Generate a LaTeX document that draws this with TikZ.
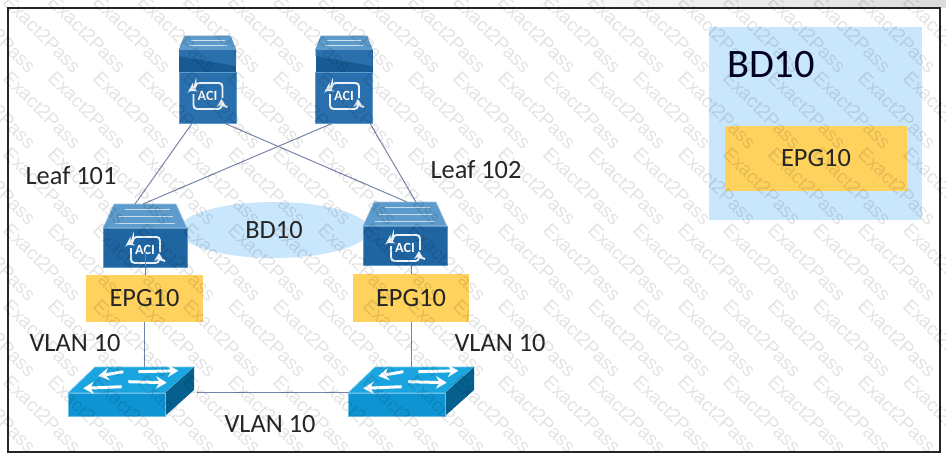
\documentclass[tikz,border=0pt]{standalone}
\usepackage{fontspec}
\setmainfont{Carlito}
\newfontfamily\wmfont{Liberation Sans}
\usetikzlibrary{positioning,shapes.geometric,arrows.meta}

\definecolor{spinetop}{HTML}{5C9BCB}
\definecolor{spinefill}{HTML}{2A70AE}
\definecolor{spinedark}{HTML}{175A94}
\definecolor{leaffill}{HTML}{1F65A2}
\definecolor{swfront}{HTML}{0F94D3}
\definecolor{swtop}{HTML}{1BA5E0}
\definecolor{swside}{HTML}{05608F}
\definecolor{linkblue}{HTML}{7683A8}
\definecolor{bdblue}{HTML}{C8E7FD}
\definecolor{epgyellow}{HTML}{FFD25E}
\definecolor{inktext}{HTML}{262626}

\tikzset{
  lbl/.style={font=\fontsize{15}{18}\selectfont, text=inktext, inner sep=0pt},
  biglbl/.style={font=\fontsize{23}{26}\selectfont, text=black!85!blue, inner sep=0pt},
  epgbox/.style={fill=epgyellow, text=inktext, font=\fontsize{15}{18}\selectfont, inner sep=0pt,
    minimum width=#1},
  epgbox/.default=2.34cm,
  bdcloud/.style={ellipse, fill=bdblue, text=inktext, font=\fontsize{15}{18}\selectfont,
    minimum width=3.8cm, minimum height=1.12cm, inner sep=0pt},
  link/.style={draw=linkblue, line width=.55pt},
  swarrow/.style={white, line width=1.7pt, -{Stealth[length=6pt,width=7pt]}},
  acipen/.style={white!90!spinefill, line width=1.1pt, rounded corners=2pt, -{Stealth[length=4.5pt,width=5.5pt]}},
  wmark/.style={font=\wmfont\fontsize{10.8}{12}\selectfont, text=black, text opacity=.11,
    rotate=-45, inner sep=0pt},
  aciicon/.pic={
    \draw[acipen] (15,2) -- (15,-13) -- (-12,-13) -- (-12,-9) -- (-19,-5);
    \draw[acipen] (-14,-2) -- (-14,13) -- (14,13) -- (14,3);
    \draw[acipen, -] (14,9) -- (20,11);
    \node[font=\fontsize{8}{8}\selectfont\bfseries, text=white, inner sep=0pt] (-txt) at (0,0) {ACI};
  },
  spinesw/.pic={
    \fill[spinetop, draw=spinefill!70!white, line width=.4pt] (-23,-60) -- (23,-60) -- (28.5,-46) -- (-28.5,-46) -- cycle;
    \draw[white!70!spinetop, line width=.5pt] (-17,-56) -- (17,-56) (-19,-51) -- (19,-51);
    \fill[spinedark] (-28.5,-46) rectangle (28.5,-24);
    \fill[spinefill] (-28.5,-40) -- (28.5,-30) -- (28.5,-46) -- (-28.5,-46) -- cycle;
    \node[fill=spinefill, draw=spinetop, line width=.5pt, minimum width=1.14cm, minimum height=1.02cm, inner sep=0pt]
      (-body) at (0,1.5) {};
    \pic {aciicon};
  },
  leafsw/.pic={
    \fill[spinetop, draw=white!60!spinefill, line width=.4pt] (-31,-46) -- (31,-46) -- (42,-22) -- (-42,-22) -- cycle;
    \draw[white!65!spinetop, line width=.5pt] (-20,-41) -- (25,-41) (-26,-34) -- (28,-34) (-30,-27) -- (30,-27);
    \node[fill=leaffill, draw=spinetop, line width=.5pt, minimum width=1.68cm, minimum height=.78cm, inner sep=0pt]
      (-body) at (0,-2.5) {};
    \pic {aciicon};
    \coordinate (-mid) at (0,0);
    \coordinate (-topa) at (-10,-46);
    \coordinate (-topb) at (-2,-46);
    \coordinate (-topc) at (2,-46);
    \coordinate (-topd) at (11,-46);
  },
  accsw/.pic={
    \fill[swtop, draw=white!40!swtop, line width=.4pt] (-77,26) -- (-50,0) -- (49,0) -- (20,26) -- cycle;
    \fill[swside] (20,26) -- (49,0) -- (49,23) -- (20,49) -- cycle;
    \node[fill=swfront, draw=white!40!swfront, line width=.4pt, minimum width=1.94cm, minimum height=.46cm, inner sep=0pt]
      (-front) at (-28.5,37.5) {};
    \draw[swarrow] (-21.7,4.7) -- (-46.7,9);
    \draw[swarrow] (-6.7,4.7) -- (33.3,3.7);
    \draw[swarrow] (-23.3,19.7) -- (-61.7,21.3);
    \draw[swarrow] (-16.7,14.7) -- (21.7,15.7);
    \coordinate (-top) at (0,0);
    \coordinate (-rim) at (52,25);
  },
}

\begin{document}
\begin{tikzpicture}[x=.02cm, y=-.02cm]
\useasboundingbox (0,0) rectangle (946,460);
\clip (0,0) rectangle (946,460);
\fill[white] (0,0) rectangle (946,460);
\shade[left color=white, right color=black!14] (520,0) rectangle (946,7);

% right hand key
\node[fill=bdblue, minimum width=4.26cm, minimum height=3.86cm, inner sep=0pt] (keybd) at (815.5,123.5) {};
\node[biglbl] (keytxt) at (771,65) {BD10};
\node[epgbox=3.64cm, minimum height=1.3cm] (keyepg) at (816,158.5) {EPG10};

% fabric
\node[bdcloud] (bdell) at (274,230) {BD10};
\pic (sp1) at (207.5,96) {spinesw};
\pic (sp2) at (344,96) {spinesw};
\pic (lf1) at (145,250) {leafsw};
\pic (lf2) at (405,248) {leafsw};

\node[epgbox, minimum height=.94cm] (epgl) at (144.5,298.5) {EPG10};
\node[epgbox, minimum height=.96cm] (epgr) at (411,298) {EPG10};

\pic (swl) at (145,367) {accsw};
\pic (swr) at (425,367) {accsw};

\node[lbl] (lfa) at (71,176) {Leaf 101};
\node[lbl] (lfb) at (476,170) {Leaf 102};
\node[lbl] (vla) at (75,343) {VLAN 10};
\node[lbl] (vlb) at (500,343) {VLAN 10};
\node[lbl] (vlc) at (270,424) {VLAN 10};

\draw[link] ([xshift=-.31cm]sp1-body.south) -- (lf1-topa);
\draw[link] ([xshift=.35cm]sp1-body.south) -- (lf2-topc);
\draw[link] ([xshift=-.24cm]sp2-body.south) -- (lf1-topb);
\draw[link] ([xshift=.52cm]sp2-body.south) -- (lf2-topd);

\draw[link] (lf1-mid) -- (lf1-mid |- epgl.north);
\draw[link] (epgr.north) -- (epgr.north |- lf2-body.south);
\draw[link] (epgl.south) -- (epgl.south |- swl-top);
\draw[link] (epgr.south) -- (epgr.south |- swr-top);
\draw[link] (swl-rim) -- (swl-rim -| swr-front.west);

% outer frame
\draw[black!85, line width=.9pt] (8,8) rectangle (940,452);

% watermark
\foreach \col in {0,...,22}
  \foreach \row in {0,...,6}
    \node[wmark] (wm\col-\row) at (-3+45*\col,-42+76*\row) {Exact2Pass};
\end{tikzpicture}
\end{document}
